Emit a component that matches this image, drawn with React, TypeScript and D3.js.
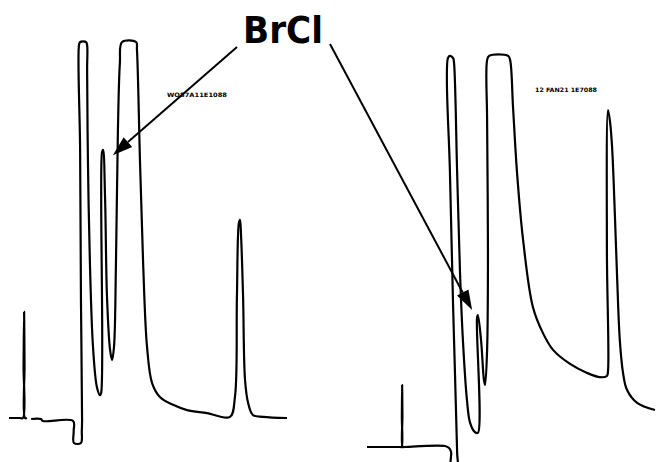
import React from "react";
import * as d3 from "d3";

// Retention time (min) and detector response (% full scale).
// null marks a break in the recorder trace.
const leftTime: (number | null)[] = [
  0, 0.39, 0.5, 0.52, 0.54, 0.555, 0.57, 0.64, null,
  0.79, 1.14, 1.21, 2.29, 2.31, 2.32, 2.57, 2.6, 2.61, 2.57, 2.54, 2.5, 2.54, 2.75, 2.79, 2.79, 2.82, 2.89, 3.0, 3.14, 3.25,
  3.29, 3.32, 3.36, 3.43, 3.5, 3.61, 3.68, 3.75, 3.82, 3.89, 3.96, 4.04, 4.54, 4.57, 4.68, 4.79, 4.93, 5.11,
  5.39, 5.86, 6.36, 7.07, 7.89, 8.07, 8.14, 8.21, 8.25, 8.29, 8.36, 8.43, 8.54, 8.71, 9.07, 9.93,
];
const leftSignal: (number | null)[] = [
  0, 0, 0, 14, 28.2, 14, 0, 0, null,
  -0.27, -0.27, -0.8, -0.8, -3.5, -6.65, -6.65, -3.5, -0.53, 31.4, 71.3, 99.2, 100, 100, 99.2, 92.6, 67.8, 41.2, 18.9, 8.2, 6.1,
  6.6, 70.5, 71.3, 58.8, 32.2, 18.1, 15.4, 18.9, 41.2, 76.6, 94.4, 100, 100, 97.9, 67.8, 41.2, 18.9, 9.3,
  5.6, 3.5, 2.1, 1.3, 0.3, 5.6, 32.2, 51.9, 52.7, 48.1, 32.2, 10.1, 4.0, 0.8, 0.3, 0,
];

const rightTime: number[] = [
  0, 1.15, 1.2, 1.21, 1.22, 1.23, 1.24, 1.3, 2.71, 2.85, 2.92, 2.92, 3.13, 3.13, 2.99, 2.88, 2.81, 2.88, 2.99, 3.02,
  3.13, 3.23, 3.33, 3.47, 3.58, 3.75, 3.85, 3.82, 3.85, 3.96, 4.06, 4.1, 4.17, 4.2, 4.17, 4.17, 4.24,
  4.9, 4.97, 5.07, 5.21, 5.42, 5.76, 6.11, 6.46, 7.05, 7.64, 8.09, 8.33, 8.37, 8.33, 8.37, 8.44, 8.51,
  8.61, 8.68, 8.78, 8.89, 9.03, 9.38, 10,
];
const rightSignal: number[] = [
  0, 0, 0, 8, 15.9, 8, 0, 0, 0.26, -0.26, -1.3, -4.9, -4.9, -1.5, 35.9, 70.3, 99.7, 100.3, 99.7, 98.7,
  70.3, 44.6, 27.4, 12.1, 6.2, 3.8, 3.6, 33.1, 33.8, 27.4, 17.2, 15.9, 24.9, 50.5, 83.8, 99.2, 100.3,
  100.3, 99.2, 87.2, 70.3, 53.1, 35.9, 29.2, 24.9, 21.3, 19.0, 17.9, 18.2, 19.7, 50.5, 86.4, 83.3, 76.9,
  58.97, 44.4, 27.2, 19.0, 14.6, 11.3, 9.5,
];

const leftRunLabel = "WO87A11E1088";
const rightRunLabel = "12 FAN21 1E7088";
const peakLabel = "BrCl";
// BrCl peak positions (time, signal) in each run
const leftBrCl: [number, number] = [3.71, 69.9];
const rightBrCl: [number, number] = [3.65, 35.1];

const W = 656;
const H = 462;

export default function App() {
  const xL = d3.scaleLinear().domain([0, 10]).range([9, 289]);
  const yL = d3.scaleLinear().domain([0, 100]).range([418, 42]);
  const xR = d3.scaleLinear().domain([0, 10]).range([367, 655]);
  const yR = d3.scaleLinear().domain([0, 100]).range([447, 57]);

  const leftPts = leftTime.map((t, i) => [t, leftSignal[i]] as [number | null, number | null]);
  const rightPts = rightTime.map((t, i) => [t, rightSignal[i]] as [number, number]);

  const lineL = d3
    .line<[number | null, number | null]>()
    .defined((d) => d[0] !== null && d[1] !== null)
    .x((d) => xL(d[0] as number))
    .y((d) => yL(d[1] as number))
    .curve(d3.curveCatmullRom.alpha(0.5));
  const lineR = d3
    .line<[number, number]>()
    .x((d) => xR(d[0]))
    .y((d) => yR(d[1]))
    .curve(d3.curveCatmullRom.alpha(0.5));

  const labelX = 283;
  const labelY = 43;
  const arrow = (x0: number, y0: number, x1: number, y1: number) => {
    const ang = Math.atan2(y1 - y0, x1 - x0);
    const len = 20;
    const half = 6.5;
    const bx = x1 - len * Math.cos(ang);
    const by = y1 - len * Math.sin(ang);
    const px = -Math.sin(ang) * half;
    const py = Math.cos(ang) * half;
    return (
      <g>
        <line x1={x0} y1={y0} x2={bx} y2={by} stroke="#000" strokeWidth={2} />
        <path d={`M${x1},${y1}L${bx + px},${by + py}L${bx - px},${by - py}Z`} fill="#000" />
      </g>
    );
  };

  return (
    <svg
      width={W}
      height={H}
      viewBox={`0 0 ${W} ${H}`}
      style={{ position: "absolute", left: 0, top: 0, background: "#fff" }}
    >
      <rect width={W} height={H} fill="#fff" />
      <path d={lineL(leftPts) || ""} fill="none" stroke="#000" strokeWidth={2.2} strokeLinejoin="round" />
      <path d={lineR(rightPts) || ""} fill="none" stroke="#000" strokeWidth={2.2} strokeLinejoin="round" />
      <text
        x={167}
        y={97}
        fontFamily="'DejaVu Sans', sans-serif"
        fontWeight="bold"
        fontSize={6}
        textLength={60}
        lengthAdjust="spacingAndGlyphs"
        fill="#000"
      >
        {leftRunLabel}
      </text>
      <text
        x={535}
        y={92}
        fontFamily="'DejaVu Sans', sans-serif"
        fontWeight="bold"
        fontSize={6}
        textLength={62}
        lengthAdjust="spacingAndGlyphs"
        fill="#000"
      >
        {rightRunLabel}
      </text>
      {arrow(237, 47, xL(leftBrCl[0]), yL(leftBrCl[1]))}
      {arrow(330, 44, xR(rightBrCl[0]), yR(rightBrCl[1]))}
      <text
        x={labelX}
        y={labelY}
        textAnchor="middle"
        fontFamily="'DejaVu Sans', sans-serif"
        fontWeight="bold"
        fontSize={38}
        textLength={80}
        lengthAdjust="spacingAndGlyphs"
        fill="#000"
      >
        {peakLabel}
      </text>
    </svg>
  );
}
